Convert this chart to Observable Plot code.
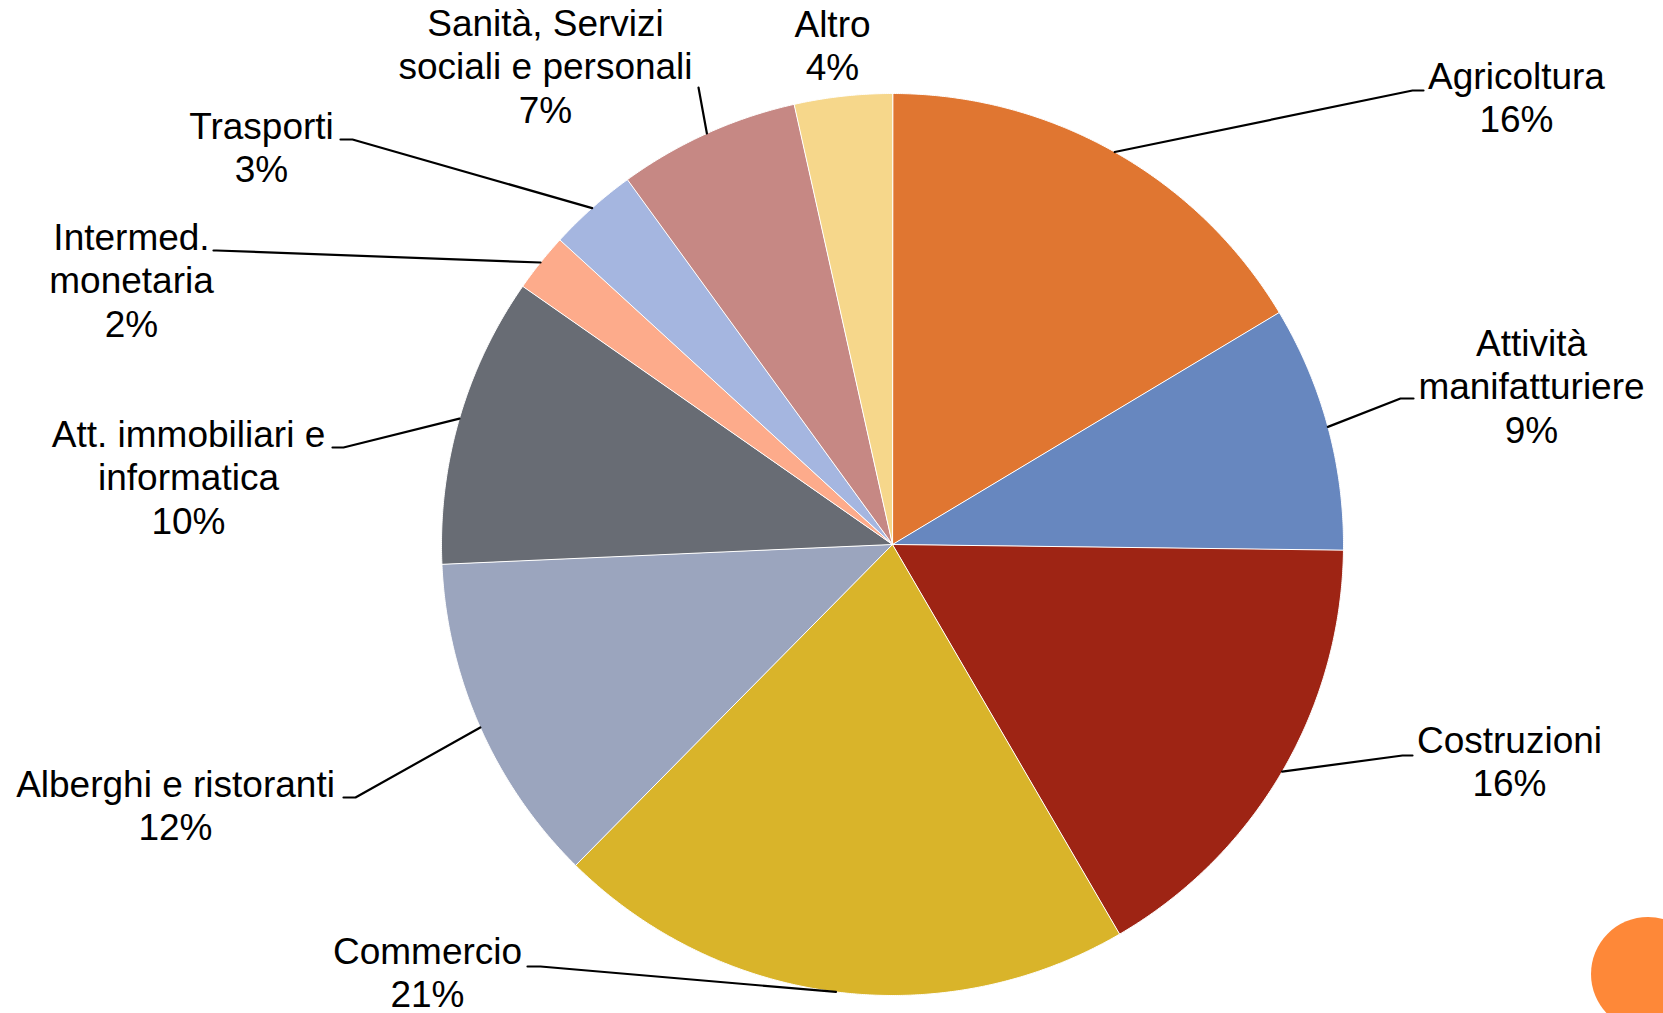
<!DOCTYPE html>
<html>
<head>
<meta charset="utf-8">
<script src="https://cdn.jsdelivr.net/npm/d3@7"></script>
<script src="https://cdn.jsdelivr.net/npm/@observablehq/plot@0.6"></script>
<style>
  html, body { margin: 0; padding: 0; background: #fff; overflow: hidden; }
  #wrap { position: relative; width: 1663px; height: 1013px; overflow: hidden; }
  #deco { position: absolute; left: 1591px; top: 917px; width: 114px; height: 114px; border-radius: 50%; background: #FE8838; }
</style>
</head>
<body>
<div id="wrap"><div id="chart"></div><div id="deco"></div></div>
<script>
// ---- data ----
const categories = [
  "Agricoltura",
  "Attività\nmanifatturiere",
  "Costruzioni",
  "Commercio",
  "Alberghi e ristoranti",
  "Att. immobiliari e\ninformatica",
  "Intermed.\nmonetaria",
  "Trasporti",
  "Sanità, Servizi\nsociali e personali",
  "Altro"
];
const values = [16.4, 8.8, 16.4, 20.8, 11.9, 10.4, 2.1, 3.2, 6.5, 3.5];
const colors = ["#E07631", "#6787BF", "#9E2414", "#D9B42A", "#9BA5BE", "#686C74", "#FDAB8B", "#A5B6E0", "#C68884", "#F6D78B"];

// ---- layout (pixels) ----
const cx = 892, cy = 544, R = 451;
const labelX = [1516, 1531, 1509, 427, 175, 188, 131, 261, 545, 832];
const labelY = [96, 385, 760, 971, 804, 476, 279, 146, 65, 44];
const elbowX = [1412, 1400, 1402, 540, 355, 343, 216, 352, 698, null];
const elbowY = [90, 398, 755, 966, 797, 447, 250, 139, 87, null];
const endX   = [1423, 1413, 1412, 527, 343, 332, 213, 340, null, null];

// ---- build geometry from data ----
const total = d3.sum(values);
const pt = (a, r) => ({x: cx + r * Math.sin(a), y: cy - r * Math.cos(a)});
let acc = 0;
const slices = values.map((v, i) => {
  const a0 = acc / total * 2 * Math.PI;
  acc += v;
  const a1 = acc / total * 2 * Math.PI;
  const n = Math.max(2, Math.ceil((a1 - a0) / (Math.PI / 720)));
  const pts = [{x: cx, y: cy}];
  for (let k = 0; k <= n; k++) pts.push(pt(a0 + (a1 - a0) * k / n, R));
  return {i, a0, a1, mid: (a0 + a1) / 2, pts, color: colors[i]};
});

const leaders = [];
slices.forEach((s, i) => {
  if (elbowX[i] == null) return;
  const e = pt(s.mid, R);
  leaders.push({id: i, x: e.x, y: e.y});
  leaders.push({id: i, x: elbowX[i], y: elbowY[i]});
  if (endX[i] != null) leaders.push({id: i, x: endX[i], y: elbowY[i]});
});

const labels = categories.map((c, i) => ({
  x: labelX[i], y: labelY[i],
  text: c + "\n" + Math.round(values[i] / total * 100) + "%"
}));

const chart = Plot.plot({
  width: 1663,
  height: 1013,
  margin: 0,
  x: {domain: [0, 1663], range: [0, 1663], axis: null},
  y: {domain: [0, 1013], range: [0, 1013], axis: null},
  style: {fontFamily: "'Liberation Sans', Arial, sans-serif", background: "white"},
  marks: [
    ...slices.map(s => Plot.line(s.pts, {x: "x", y: "y", curve: "linear-closed", fill: s.color, stroke: "white", strokeWidth: 1})),
    Plot.line(leaders, {x: "x", y: "y", z: "id", stroke: "black", strokeWidth: 2.2}),
    Plot.text(labels, {x: "x", y: "y", text: "text", fontSize: 37, lineHeight: 1.175, fill: "black", textAnchor: "middle"})
  ]
});
document.getElementById("chart").appendChild(chart);
</script>
</body>
</html>
